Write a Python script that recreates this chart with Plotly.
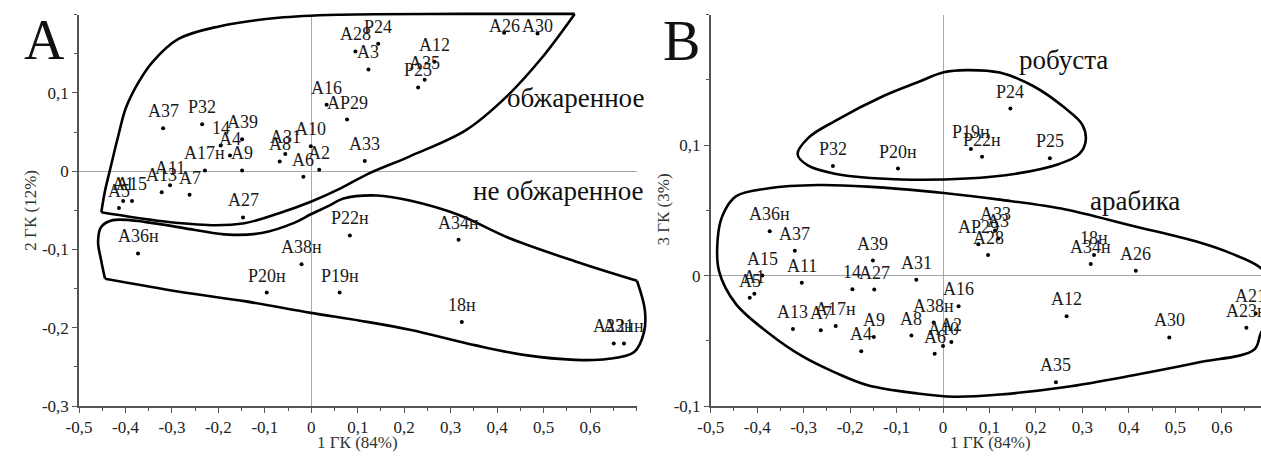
import plotly.graph_objects as go

FIG_W, FIG_H = 1261, 462
SERIF = "Liberation Serif"

# ---------------- principal component scores ----------------
# Panel A: PC1 vs PC2 (roasted and green beans)
A_NAMES = ["A37", "P32", "14", "A39", "A4", "A17н", "A9", "A31", "A8", "A10",
           "A2", "A6", "A16", "AP29", "A33", "A28", "P24", "A3", "A12", "A35",
           "P25", "A26", "A30", "A5", "A1", "A15", "A13", "A11", "A7", "A27",
           "A36н", "A38н", "P20н", "P19н", "P22н", "A34н", "18н", "A21н", "A23н"]
A_PC1 = [-0.319, -0.235, -0.195, -0.149, -0.175, -0.229, -0.149, -0.056, -0.068, -0.001,
         0.017, -0.017, 0.033, 0.077, 0.115, 0.095, 0.144, 0.123, 0.265, 0.244,
         0.230, 0.415, 0.487, -0.414, -0.405, -0.386, -0.322, -0.304, -0.262, -0.147,
         -0.373, -0.021, -0.096, 0.061, 0.083, 0.317, 0.324, 0.673, 0.651]
A_PC2 = [0.055, 0.060, 0.033, 0.041, 0.020, 0.001, 0.001, 0.022, 0.0125, 0.032,
         0.002, -0.007, 0.085, 0.066, 0.013, 0.153, 0.163, 0.130, 0.140, 0.117,
         0.107, 0.177, 0.176, -0.047, -0.038, -0.038, -0.027, -0.018, -0.030, -0.059,
         -0.105, -0.119, -0.155, -0.155, -0.082, -0.0875, -0.1925, -0.220, -0.220]

# Panel B: PC1 vs PC3 (robusta and arabica)
B_NAMES = ["P32", "P20н", "P24", "P19н", "P22н", "P25",
           "A36н", "A37", "A15", "A1", "A5", "A11", "A39", "14", "A27", "A31",
           "A13", "A7", "A17н", "A9", "A4", "A8", "A38н", "A6", "A10", "A2", "A16",
           "A33", "A3", "AP29", "A28", "18н", "A34н", "A26", "A12", "A30", "A35",
           "A21н", "A23н"]
B_PC1 = [-0.237, -0.097, 0.145, 0.060, 0.084, 0.230,
         -0.373, -0.319, -0.389, -0.406, -0.416, -0.304, -0.151, -0.195, -0.148, -0.0575,
         -0.323, -0.263, -0.231, -0.149, -0.176, -0.068, -0.020, -0.018, 0.000, 0.018, 0.0335,
         0.112, 0.119, 0.076, 0.097, 0.325, 0.318, 0.415, 0.266, 0.487, 0.243,
         0.673, 0.653]
B_PC3 = [0.084, 0.082, 0.128, 0.097, 0.091, 0.090,
         0.034, 0.019, 0.000, -0.014, -0.017, -0.0055, 0.0115, -0.0105, -0.0107, -0.0032,
         -0.041, -0.042, -0.0387, -0.047, -0.058, -0.046, -0.036, -0.060, -0.054, -0.051, -0.0235,
         0.0345, 0.0285, 0.024, 0.0157, 0.0157, 0.0088, 0.0037, -0.0312, -0.0474, -0.0817,
         -0.029, -0.040]

# ---------------- ticks ----------------
X_TICKS = [-0.5, -0.4, -0.3, -0.2, -0.1, 0.0, 0.1, 0.2, 0.3, 0.4, 0.5, 0.6]
X_TICKTEXT = ["-0,5", "-0,4", "-0,3", "-0,2", "-0,1", "0", "0,1", "0,2", "0,3", "0,4", "0,5", "0,6"]
A_Y_TICKS = [-0.3, -0.2, -0.1, 0.0, 0.1]
A_Y_TICKTEXT = ["-0,3", "-0,2", "-0,1", "0", "0,1"]
B_Y_TICKS = [-0.1, 0.0, 0.1]
B_Y_TICKTEXT = ["-0,1", "0", "0,1"]

# ---------------- group outlines (each a list of smooth segments) ----------------
ROASTED_OUTLINE = [
    [(-0.452, -0.0525), (-0.444, -0.025), (-0.433, 0.0025), (-0.416, 0.044), (-0.399, 0.081),
     (-0.373, 0.1125), (-0.341, 0.14), (-0.286, 0.169), (-0.199, 0.185), (-0.071, 0.196),
     (0.063, 0.2), (0.318, 0.201), (0.567, 0.201)],
    [(0.567, 0.201), (0.495, 0.144), (0.418, 0.094), (0.333, 0.0525), (0.212, 0.019),
     (0.12, -0.004), (0.063, -0.022), (-0.001, -0.039), (-0.071, -0.054), (-0.144, -0.0665),
     (-0.214, -0.069), (-0.32, -0.064), (-0.452, -0.0525)],
]
GREEN_OUTLINE = [
    [(-0.444, -0.1375), (-0.452, -0.115), (-0.459, -0.09), (-0.452, -0.071), (-0.427, -0.0625),
     (-0.356, -0.065), (-0.25, -0.075), (-0.178, -0.081), (-0.107, -0.079), (-0.037, -0.066),
     (-0.001, -0.055), (0.035, -0.045), (0.069, -0.035), (0.141, -0.031), (0.212, -0.0375),
     (0.318, -0.056), (0.424, -0.085), (0.567, -0.115), (0.701, -0.14)],
    [(0.701, -0.14), (0.718, -0.1775), (0.716, -0.206), (0.695, -0.231), (0.637, -0.24),
     (0.567, -0.241), (0.461, -0.235), (0.354, -0.2225), (0.212, -0.2025), (0.105, -0.191),
     (-0.001, -0.181), (-0.144, -0.166), (-0.284, -0.154), (-0.444, -0.1375)],
]
ROBUSTA_OUTLINE = [
    [(0.0015, 0.1558), (0.051, 0.1575), (0.122, 0.1556), (0.193, 0.1455), (0.264, 0.128),
     (0.3, 0.1156), (0.307, 0.103), (0.293, 0.0931), (0.25, 0.0856), (0.157, 0.0781),
     (0.051, 0.0744), (-0.091, 0.0737), (-0.233, 0.0781), (-0.291, 0.0844), (-0.313, 0.093),
     (-0.29, 0.1056), (-0.233, 0.1184), (-0.126, 0.138), (-0.056, 0.148), (0.0015, 0.1558)],
]
ARABICA_OUTLINE = [
    [(0.67, -0.0567), (0.549, -0.0667), (0.407, -0.0766), (0.264, -0.0854), (0.122, -0.0912),
     (0.023, -0.0929), (-0.055, -0.0904), (-0.162, -0.0841), (-0.233, -0.0742), (-0.304, -0.0616),
     (-0.375, -0.0442), (-0.446, -0.0217), (-0.482, 0.0032), (-0.485, 0.0282), (-0.475, 0.0457),
     (-0.446, 0.0607), (-0.375, 0.0669), (-0.269, 0.0694), (-0.162, 0.0682), (0.0015, 0.0633),
     (0.122, 0.0582), (0.264, 0.0507), (0.407, 0.0382), (0.549, 0.0257), (0.62, 0.017),
     (0.684, 0.0058), (0.716, -0.0105), (0.709, -0.029), (0.684, -0.0442), (0.67, -0.0567)],
]

# ---------------- geometry (pixels) ----------------
PLOT_TOP, PLOT_BOTTOM = 15, 415
A_LEFT, A_RIGHT = 66.7, 630
B_LEFT, B_RIGHT = 705, FIG_W
X_RANGE_A = [-0.5, 0.7]
X_SCALE = (A_RIGHT - A_LEFT) / (X_RANGE_A[1] - X_RANGE_A[0])
X_RANGE_B = [-0.5, -0.5 + (B_RIGHT - B_LEFT) / X_SCALE]
Y_RANGE_A = [-0.3, 0.2]
Y_RANGE_B = [-0.1, 0.2]

# label offsets above the dots (px); labels near the top edge sit lower
LABEL_SHIFT = 17
A_LABEL_SHIFT_OVERRIDE = {"A26": 7, "A30": 7}


def xdom(l_px, r_px):
    return [max(0.0, l_px / FIG_W), min(1.0, r_px / FIG_W)]


def ydom(top_px, bottom_px):
    return [max(0.0, 1 - bottom_px / FIG_H), min(1.0, 1 - top_px / FIG_H)]


def padded(lo_px, hi_px, rng, pad_lo, pad_hi):
    s = (hi_px - lo_px) / (rng[1] - rng[0])
    return (lo_px - pad_lo, hi_px + pad_hi), [rng[0] - pad_lo / s, rng[1] + pad_hi / s]


AX_COLOR = "#555555"
base_axis = dict(
    showline=True, linecolor=AX_COLOR, linewidth=1.5,
    ticks="outside", ticklen=5, tickwidth=1, tickcolor=AX_COLOR,
    showgrid=False, zeroline=True, zerolinecolor="#a8a8a8", zerolinewidth=1,
    tickfont=dict(family=SERIF, size=17, color="#222222"),
    tickmode="array",
    minor=dict(ticks="outside", ticklen=3, tickwidth=1, tickcolor=AX_COLOR,
               dtick=0.05, tick0=0, showgrid=False),
    fixedrange=True,
)

fig = go.Figure()

# sample points
fig.add_trace(go.Scatter(x=A_PC1, y=A_PC2, mode="markers", xaxis="x", yaxis="y",
                         marker=dict(size=4, color="black"), hoverinfo="skip",
                         cliponaxis=False, showlegend=False))
fig.add_trace(go.Scatter(x=B_PC1, y=B_PC3, mode="markers", xaxis="x2", yaxis="y2",
                         marker=dict(size=4, color="black"), hoverinfo="skip",
                         cliponaxis=True, showlegend=False))


# group outlines drawn on invisible, slightly larger companion axes (same scale)
def add_outline(segments, xa, ya):
    for seg in segments:
        fig.add_trace(go.Scatter(
            x=[p[0] for p in seg], y=[p[1] for p in seg], mode="lines",
            line=dict(color="black", width=2.6, shape="spline", smoothing=1.0),
            xaxis=xa, yaxis=ya, hoverinfo="skip", showlegend=False))


add_outline(ROASTED_OUTLINE, "x3", "y3")
add_outline(GREEN_OUTLINE, "x3", "y3")
add_outline(ROBUSTA_OUTLINE, "x4", "y4")
add_outline(ARABICA_OUTLINE, "x4", "y4")

# companion axis extents
PAD = 14
a_xpx, a_xr = padded(A_LEFT, A_RIGHT, X_RANGE_A, PAD, PAD)
b_xpx, b_xr = padded(B_LEFT, B_RIGHT, X_RANGE_B, PAD, 0)
# vertical: work in distance from the bottom of the figure
a_ypx, a_yr = padded(FIG_H - PLOT_BOTTOM, FIG_H - PLOT_TOP, Y_RANGE_A, PAD, PAD)
b_ypx, b_yr = padded(FIG_H - PLOT_BOTTOM, FIG_H - PLOT_TOP, Y_RANGE_B, PAD, PAD)

hidden = dict(visible=False, fixedrange=True, showgrid=False, zeroline=False)

annotations = []
for name, x, y in zip(A_NAMES, A_PC1, A_PC2):
    annotations.append(dict(x=x, y=y, xref="x", yref="y", text=name, showarrow=False,
                            xanchor="center", yanchor="middle",
                            yshift=A_LABEL_SHIFT_OVERRIDE.get(name, LABEL_SHIFT),
                            font=dict(family=SERIF, size=18, color="#1a1a1a")))
for name, x, y in zip(B_NAMES, B_PC1, B_PC3):
    annotations.append(dict(x=x, y=y, xref="x2", yref="y2", text=name, showarrow=False,
                            xanchor="center", yanchor="middle", yshift=LABEL_SHIFT,
                            font=dict(family=SERIF, size=18, color="#1a1a1a")))

# group names
for txt, x, y, xr, yr in [("обжаренное", 0.569, 0.094, "x", "y"),
                          ("не обжаренное", 0.533, -0.025, "x", "y"),
                          ("робуста", 0.26, 0.1655, "x2", "y2"),
                          ("арабика", 0.413, 0.057, "x2", "y2")]:
    annotations.append(dict(x=x, y=y, xref=xr, yref=yr, text=txt, showarrow=False,
                            xanchor="center", yanchor="middle",
                            font=dict(family=SERIF, size=27, color="#111111")))

# panel letters
for txt, px, py in [("A", 32, 41), ("B", 675, 42)]:
    annotations.append(dict(x=px / FIG_W, y=1 - py / FIG_H, xref="paper", yref="paper",
                            text=txt, showarrow=False, xanchor="center", yanchor="middle",
                            font=dict(family=SERIF, size=56, color="#111111")))

# axis titles
for txt, px, py, ang in [("1 ГК (84%)", 348, 452, 0), ("1 ГК (84%)", 988, 452, 0),
                         ("2 ГК (12%)", 17.5, 215, -90), ("3 ГК (3%)", 657, 214, -90)]:
    annotations.append(dict(x=px / FIG_W, y=1 - py / FIG_H, xref="paper", yref="paper",
                            text=txt, showarrow=False, xanchor="center", yanchor="middle",
                            textangle=ang,
                            font=dict(family=SERIF, size=17, color="#333333")))

fig.update_layout(
    width=FIG_W, height=FIG_H,
    margin=dict(l=0, r=0, t=0, b=0),
    paper_bgcolor="white", plot_bgcolor="rgba(0,0,0,0)",
    showlegend=False,
    font=dict(family=SERIF),
    xaxis=dict(base_axis, domain=xdom(A_LEFT, A_RIGHT), range=X_RANGE_A, anchor="y",
               tickvals=X_TICKS, ticktext=X_TICKTEXT),
    yaxis=dict(base_axis, domain=ydom(PLOT_TOP, PLOT_BOTTOM), range=Y_RANGE_A, anchor="x",
               tickvals=A_Y_TICKS, ticktext=A_Y_TICKTEXT),
    xaxis2=dict(base_axis, domain=xdom(B_LEFT, B_RIGHT), range=X_RANGE_B, anchor="y2",
                tickvals=X_TICKS, ticktext=X_TICKTEXT),
    yaxis2=dict(base_axis, domain=ydom(PLOT_TOP, PLOT_BOTTOM), range=Y_RANGE_B, anchor="x2",
                tickvals=B_Y_TICKS, ticktext=B_Y_TICKTEXT),
    xaxis3=dict(hidden, domain=xdom(*a_xpx), range=a_xr, anchor="y3"),
    yaxis3=dict(hidden, domain=[a_ypx[0] / FIG_H, a_ypx[1] / FIG_H], range=a_yr, anchor="x3"),
    xaxis4=dict(hidden, domain=xdom(*b_xpx), range=b_xr, anchor="y4"),
    yaxis4=dict(hidden, domain=[b_ypx[0] / FIG_H, b_ypx[1] / FIG_H], range=b_yr, anchor="x4"),
    annotations=annotations,
)

fig.write_html("out.html", config={"displayModeBar": False})
